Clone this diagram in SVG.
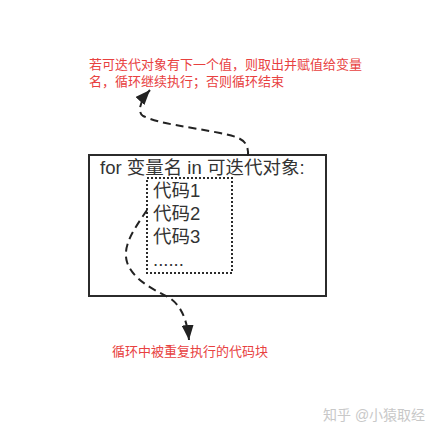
<svg xmlns="http://www.w3.org/2000/svg" width="433" height="435" viewBox="0 0 433 435">
<defs>
<marker id="arr" markerUnits="userSpaceOnUse" markerWidth="15" markerHeight="12" refX="15" refY="6" orient="auto">
<path d="M0,0 L15,6 L0,12 z" fill="#222"/>
</marker>
<style>
.code{font-family:"Liberation Sans","Noto Sans CJK SC",sans-serif;font-size:18.5px;fill:#333}
.note{font-family:"Liberation Sans","Noto Sans CJK SC",sans-serif;font-size:13px;fill:#e8413f}
.conn{fill:none;stroke:#222;stroke-width:2;stroke-dasharray:8,5;marker-end:url(#arr)}
</style>
</defs>
<rect width="433" height="435" fill="#fff"/>
<g id="loop-box">
<rect x="89" y="155" width="237" height="141" fill="none" stroke="#2b2b2b" stroke-width="2"/>
<text class="code" x="100" y="174">for 变量名 in 可迭代对象:</text>
</g>
<g id="code-block">
<rect x="147" y="178" width="85" height="95" fill="none" stroke="#2b2b2b" stroke-width="2" stroke-dasharray="2,2"/>
<text class="code" x="153" y="197">代码1</text>
<text class="code" x="153" y="220">代码2</text>
<text class="code" x="153" y="243">代码3</text>
<text class="code" x="153" y="266" font-size="13">......</text>
</g>
<g id="note-top">
<text class="note" x="89" y="69">若可迭代对象有下一个值，则取出并赋值给变量</text>
<text class="note" x="89" y="86">名，循环继续执行；否则循环结束</text>
</g>
<g id="note-bottom">
<text class="note" x="112" y="356">循环中被重复执行的代码块</text>
</g>
<g id="connectors">
<path class="conn" d="M248,156 C249,140 240,137 220,133 C190,127 160,124 143,116 C137,112 140,101 150,90"/>
<path class="conn" d="M147,210 C135,228 122,245 127,262 C132,278 150,288 168,297 C180,304 187,318 189,340"/>
</g>
<text x="323" y="420" font-family="Liberation Sans,'Noto Sans CJK SC',sans-serif" font-size="14" fill="#c8c8c8">知乎 @小猿取经</text>
</svg>
